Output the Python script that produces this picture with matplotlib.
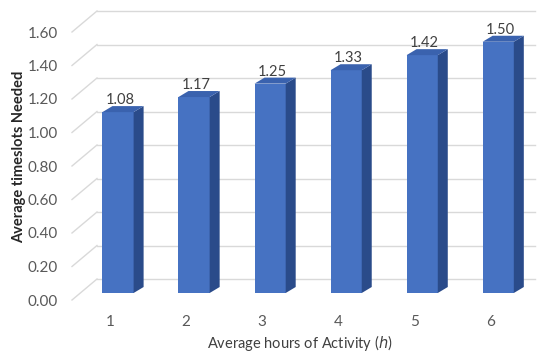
import matplotlib
matplotlib.use("Agg")
import matplotlib.pyplot as plt
from matplotlib.transforms import Affine2D
from matplotlib.patches import Polygon
from matplotlib.lines import Line2D

# Data
hours = [1, 2, 3, 4, 5, 6]
timeslots = [1.08, 1.17, 1.25, 1.33, 1.42, 1.50]
value_labels = ["1.08", "1.17", "1.25", "1.33", "1.42", "1.50"]
y_ticks = [0.0, 0.2, 0.4, 0.6, 0.8, 1.0, 1.2, 1.4, 1.6]
y_ticklabels = ["0.00", "0.20", "0.40", "0.60", "0.80", "1.00", "1.20", "1.40", "1.60"]

plt.rcParams["font.family"] = ["Lato", "DejaVu Sans"]

DPI = 100
fig = plt.figure(figsize=(5.44, 3.53), dpi=DPI)
W, H = 544, 353
# axes (front plane) in pixel terms: x 72..510, y 300..32
ax = fig.add_axes([72 / W, (H - 300) / H, (510 - 72) / W, (300 - 32) / H])
ax.set_xlim(0.5, 6.26)
ax.set_ylim(0, 1.6)
for s in ax.spines.values():
    s.set_visible(False)
ax.set_facecolor("none")

base = ax.transData
def shifted(dx, dy):
    return base + Affine2D().translate(dx, dy)

wall_tr = shifted(25, 21)       # back wall
front_tr = shifted(8, 7)        # front face of the bars
back_tr = shifted(18, 13)       # back face of the bars

grid_c = "#d9d9d9"
x0, x1 = ax.get_xlim()
for t in y_ticks:
    # back wall gridline
    ax.add_line(Line2D([x0, x1], [t, t], transform=wall_tr, color=grid_c,
                       lw=1.0, clip_on=False, zorder=1))
    # side wall diagonal
    p0 = base.transform((x0, t))
    p1 = wall_tr.transform((x0, t))
    fig.add_artist(Line2D([p0[0], p1[0]], [p0[1], p1[1]], transform=None,
                          color=grid_c, lw=1.0, zorder=1))

# bars
width = 0.41
front_c = "#4672C2"
side_c = "#2A4B8A"
top_c = "#3A62AE"
bars = ax.bar(hours, timeslots, width=width, color=front_c, zorder=3, clip_on=False)
for b in bars:
    b.set_transform(front_tr)

for x, v in zip(hours, timeslots):
    xl, xr = x - width / 2, x + width / 2
    side = [front_tr.transform((xr, 0)), front_tr.transform((xr, v)),
            back_tr.transform((xr, v)), back_tr.transform((xr, 0))]
    top = [front_tr.transform((xl, v)), front_tr.transform((xr, v)),
           back_tr.transform((xr, v)), back_tr.transform((xl, v))]
    fig.add_artist(Polygon(side, closed=True, transform=None, facecolor=side_c,
                           edgecolor="none", zorder=2))
    fig.add_artist(Polygon(top, closed=True, transform=None, facecolor=top_c,
                           edgecolor="none", zorder=2))

for x, v, lab in zip(hours, timeslots, value_labels):
    ax.text(x, v, lab, transform=front_tr + Affine2D().translate(2, 5),
            ha="center", va="bottom", fontsize=10.5, color="#404040", zorder=5,
            clip_on=False)

ax.set_xticks(hours)
ax.set_xticklabels([str(h) for h in hours])
ax.set_yticks(y_ticks)
ax.set_yticklabels(y_ticklabels)
ax.tick_params(axis="both", length=0, labelsize=11, labelcolor="#595959")
ax.tick_params(axis="x", pad=11)
ax.tick_params(axis="y", pad=10)

ax.set_xlabel("Average hours of Activity ($h$)", fontsize=10.5, color="#404040")
ax.set_ylabel("Average timeslots Needed", fontsize=10.5, fontweight="bold",
              color="#262626")
ax.xaxis.set_label_coords(228 / 438, -(343 - 300) / 268)
ax.yaxis.set_label_coords(-(72 - 19) / 438, (300 - 157) / 268)
ax.xaxis.label.set_va("center")
ax.yaxis.label.set_va("center")

fig.savefig("out.png", dpi=DPI)
